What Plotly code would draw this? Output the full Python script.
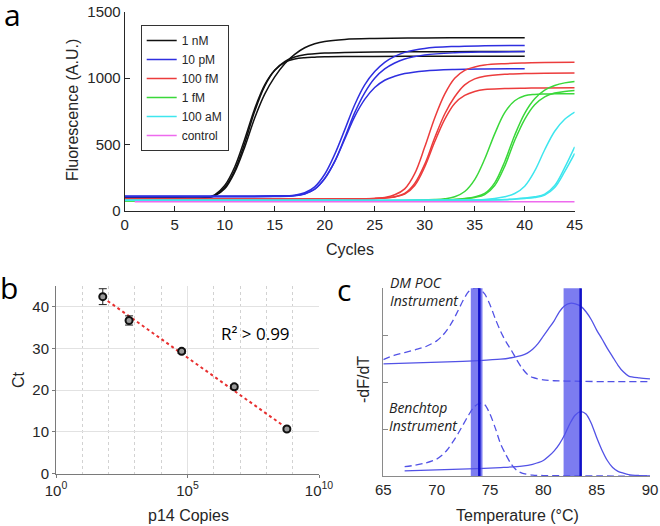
import plotly.graph_objects as go

W, H = 660, 526

# ---------- panel a : amplification curves ----------
cyc_1nM = [0, 5, 8, 9, 10, 11, 12, 13, 14, 15, 16, 17, 18, 19, 20, 22, 25, 30, 35, 40]
k1 = [96, 96, 96, 112, 165, 290, 480, 700, 880, 1010, 1110, 1180, 1230, 1260, 1278, 1293, 1300, 1304, 1305, 1305]
k2 = [96, 96, 96, 115, 175, 305, 510, 750, 940, 1060, 1125, 1160, 1178, 1185, 1190, 1195, 1198, 1200, 1201, 1201]
k3 = [96, 96, 97, 120, 190, 330, 540, 770, 950, 1060, 1120, 1145, 1155, 1159, 1162, 1164, 1165, 1166, 1166, 1166]

cyc_10pM = [0, 10, 15, 17, 18, 19, 20, 21, 22, 23, 24, 25, 26, 27, 28, 30, 33, 36, 40]
b1 = [111, 111, 112, 117, 135, 180, 275, 425, 610, 800, 950, 1050, 1120, 1165, 1195, 1225, 1240, 1245, 1248]
b2 = [108, 108, 109, 114, 128, 163, 243, 372, 550, 740, 890, 1000, 1070, 1115, 1145, 1175, 1192, 1198, 1201]
b3 = [106, 106, 107, 112, 126, 162, 242, 370, 540, 710, 840, 930, 985, 1015, 1035, 1055, 1066, 1070, 1072]

cyc_100fM = [0, 10, 20, 25, 26, 27, 28, 29, 30, 31, 32, 33, 34, 35, 36, 38, 40, 42, 45]
r1 = [88, 88, 89, 93, 100, 120, 165, 280, 480, 700, 880, 1000, 1060, 1085, 1100, 1110, 1115, 1118, 1120]
r2 = [88, 88, 89, 92, 96, 105, 130, 205, 350, 550, 730, 860, 950, 995, 1015, 1030, 1035, 1038, 1040]
r3 = [87, 87, 88, 91, 95, 104, 125, 190, 330, 520, 690, 810, 870, 900, 915, 922, 925, 927, 928]

cyc_1fM = [0, 10, 20, 28, 31, 32, 33, 34, 35, 36, 37, 38, 39, 40, 41, 42, 43, 44, 45]
g1 = [76, 76, 76, 77, 84, 90, 105, 145, 235, 390, 580, 740, 830, 868, 878, 881, 882, 883, 883]
g2 = [76, 76, 76, 76, 79, 81, 85, 92, 104, 130, 210, 370, 570, 735, 845, 910, 945, 965, 976]
g3 = [76, 76, 76, 76, 79, 81, 84, 90, 100, 122, 190, 335, 530, 690, 800, 860, 888, 900, 907]

cyc_100aM = [0, 10, 20, 30, 34, 36, 37, 38, 39, 40, 41, 42, 43, 44, 45]
c1 = [78, 78, 78, 79, 81, 85, 92, 105, 130, 185, 300, 460, 600, 690, 745]
c2 = [78, 78, 78, 78, 79, 80, 82, 85, 89, 95, 105, 125, 190, 325, 482]
c3 = [78, 78, 78, 78, 79, 80, 81, 83, 87, 92, 100, 118, 175, 295, 432]

cyc_ctrl = [1, 10, 20, 30, 40, 45]
ctrl = [68, 68, 68, 68, 68, 68]

groups = [
    ("1 nM", "#111111", cyc_1nM, [k1, k2, k3]),
    ("10 pM", "#2f2fe0", cyc_10pM, [b1, b2, b3]),
    ("100 fM", "#ec3c3c", cyc_100fM, [r1, r2, r3]),
    ("1 fM", "#3ad83a", cyc_1fM, [g1, g2, g3]),
    ("100 aM", "#3ee6ee", cyc_100aM, [c1, c2, c3]),
    ("control", "#ee6aee", cyc_ctrl, [ctrl]),
]

# ---------- panel b : standard curve ----------
copies = [6e1, 6e2, 6e4, 6e6, 6e8]
ct = [42.4, 36.7, 29.3, 20.8, 10.7]
ct_err = [1.9, 1.1, 0.5, 0.5, 0.4]
fit_x = [6e1, 6e8]
fit_y = [42.2, 10.9]

# ---------- panel c : melt curves ----------
dm_dash_t = [65, 66, 67, 68, 69, 70, 70.5, 71, 71.5, 72, 72.5, 73, 73.5, 74, 74.5, 75, 75.5, 76, 76.5, 77,
             77.5, 78, 78.5, 79, 80, 81, 83, 86, 90]
dm_dash_y = [2.48, 2.57, 2.63, 2.69, 2.76, 2.88, 2.98, 3.12, 3.3, 3.52, 3.75, 3.93, 4.0, 3.99, 3.88, 3.65,
             3.35, 3.08, 2.86, 2.68, 2.48, 2.3, 2.17, 2.1, 2.05, 2.03, 2.02, 2.01, 2.01]
dm_solid_t = [65, 68, 71, 74, 76, 77, 78, 78.5, 79, 79.5, 80, 80.5, 81, 81.5, 82, 82.5, 83, 83.5, 84, 84.5,
              85, 85.5, 86, 86.5, 87, 87.5, 88, 89, 90]
dm_solid_y = [2.39, 2.41, 2.43, 2.46, 2.49, 2.52, 2.57, 2.62, 2.7, 2.82, 2.98, 3.14, 3.3, 3.5, 3.63, 3.68,
              3.67, 3.62, 3.5, 3.33, 3.11, 2.92, 2.72, 2.54, 2.36, 2.22, 2.13, 2.09, 2.07]
bt_dash_t = [67, 68, 69, 70, 70.5, 71, 71.5, 72, 72.5, 73, 73.5, 74, 74.5, 75, 75.5, 76, 76.5, 77, 77.5,
             78, 79, 80, 85, 90]
bt_dash_y = [0.2, 0.23, 0.28, 0.36, 0.44, 0.56, 0.72, 0.9, 1.1, 1.3, 1.47, 1.55, 1.52, 1.32, 1.02, 0.68,
             0.45, 0.25, 0.12, 0.06, 0.02, 0.01, 0.0, 0.0]
bt_solid_t = [67, 70, 73, 76, 78, 79, 80, 80.5, 81, 81.5, 82, 82.5, 83, 83.5, 84, 84.5, 85, 85.5, 86, 86.5,
              87, 87.5, 88, 89, 90]
bt_solid_y = [0.11, 0.13, 0.15, 0.18, 0.21, 0.25, 0.33, 0.42, 0.53, 0.68, 0.88, 1.12, 1.3, 1.37, 1.32,
              1.12, 0.82, 0.55, 0.33, 0.18, 0.1, 0.06, 0.03, 0.01, 0.0]
tm_low = [73.2, 81.9]
tm_high = [74.3, 83.5]
tm_line = [74.0, 83.5]


def px(x):
    return x / W


def py(y):
    return 1 - y / H


fig = go.Figure()

for name, col, cyc, curves in groups:
    for i, vals in enumerate(curves):
        fig.add_trace(go.Scatter(
            x=cyc, y=vals, mode="lines", name=name, legendgroup=name,
            showlegend=(i == 0), line=dict(color=col, width=1.5, shape="spline", smoothing=1.0),
            xaxis="x", yaxis="y"))

fig.add_trace(go.Scatter(
    x=fit_x, y=fit_y, mode="lines", showlegend=False,
    line=dict(color="#e83030", width=2, dash="dot"), xaxis="x2", yaxis="y2"))
fig.add_trace(go.Scatter(
    x=copies, y=ct, mode="markers", showlegend=False,
    marker=dict(symbol="circle", size=7, color="#9a9a9a", line=dict(color="#111111", width=2)),
    error_y=dict(type="data", array=ct_err, color="#222222", thickness=1, width=4),
    xaxis="x2", yaxis="y2"))

mc = "#5252e6"
for t, y, dash in [(dm_dash_t, dm_dash_y, "7px,4px"), (dm_solid_t, dm_solid_y, "solid"),
                   (bt_dash_t, bt_dash_y, "7px,4px"), (bt_solid_t, bt_solid_y, "solid")]:
    fig.add_trace(go.Scatter(
        x=t, y=y, mode="lines", showlegend=False,
        line=dict(color=mc, width=1.3, dash=dash, shape="spline", smoothing=0.8),
        xaxis="x3", yaxis="y3"))

for lo, hi, ln in zip(tm_low, tm_high, tm_line):
    fig.add_shape(type="rect", xref="x3", yref="y3 domain", x0=lo, x1=hi, y0=0, y1=1,
                  fillcolor="rgba(80,80,235,0.75)", line_width=0, layer="above")
    fig.add_shape(type="line", xref="x3", yref="y3 domain", x0=ln, x1=ln, y0=0, y1=1,
                  line=dict(color="#1010c8", width=2.5), layer="above")

tickf = dict(family="Liberation Sans, Arial", size=15, color="#262626")
axa = dict(showline=True, linecolor="#262626", linewidth=1, ticks="inside", ticklen=5,
           tickcolor="#262626", showgrid=False, zeroline=False, tickfont=tickf, automargin=False)
axb = dict(showline=True, linecolor="#7a7a7a", linewidth=1, ticks="outside", ticklen=3,
           tickcolor="#7a7a7a", showgrid=True, gridcolor="#e2e2e2", zeroline=False, tickfont=tickf,
           automargin=False)
axc = dict(showline=True, linecolor="#8a8a8a", linewidth=1, showgrid=False, zeroline=False,
           tickfont=tickf, automargin=False)

fig.update_layout(
    width=W, height=H, margin=dict(l=0, r=0, t=0, b=0, autoexpand=False),
    paper_bgcolor="white", plot_bgcolor="white",
    xaxis=dict(axa, domain=[px(124.7), px(574.7)], range=[0, 45], tick0=0, dtick=5, anchor="y"),
    yaxis=dict(axa, domain=[py(210.7), py(12)], range=[0, 1500], tick0=0, dtick=500, anchor="x"),
    xaxis2=dict(axb, type="log", domain=[px(56), px(319)], range=[0, 10], anchor="y2",
                tickvals=[1, 1e5, 1e10], ticktext=["10<sup>0</sup>", "10<sup>5</sup>", "10<sup>10</sup>"],
                minor=dict(tickvals=[10, 100, 1e3, 1e4, 1e6, 1e7, 1e8, 1e9], showgrid=True,
                           griddash="dot", gridcolor="#d2d2d2", ticks="")),
    yaxis2=dict(axb, domain=[py(473.7), py(285.8)], range=[0, 45], tickvals=[0, 10, 20, 30, 40],
                anchor="x2"),
    xaxis3=dict(axc, domain=[px(383.3), px(650)], range=[65, 90], tick0=65, dtick=5, ticks="",
                anchor="y3"),
    yaxis3=dict(axc, domain=[py(476), py(288.3)], range=[0, 4], dtick=1, ticks="inside", ticklen=5,
                tickcolor="#8a8a8a", showticklabels=False, anchor="x3"),
    legend=dict(x=px(140.7), y=py(25), xanchor="left", yanchor="top", bgcolor="white",
                bordercolor="#333333", borderwidth=1, tracegroupgap=0,
                font=dict(family="Liberation Sans, Arial", size=12, color="#262626")),
    showlegend=True,
)

titlef = dict(family="Liberation Sans, Arial", size=16, color="#262626")
notes = [
    ("Cycles", 350, 250, 0, titlef),
    ("Fluorescence (A.U.)", 72, 110, -90, titlef),
    ("p14 Copies", 188, 515, 0, titlef),
    ("Ct", 18, 380, -90, titlef),
    ("Temperature (°C)", 517, 515, 0, titlef),
    ("-dF/dT", 363, 380, -90, titlef),
]
for txt, x, y, ang, f in notes:
    fig.add_annotation(text=txt, x=px(x), y=py(y), xref="paper", yref="paper", showarrow=False,
                       textangle=ang, font=f, xanchor="center", yanchor="middle")

labf = dict(family="Open Sans", size=30, color="black")
for txt, x, y in [("a", 13, 15), ("b", 9, 287), ("c", 344, 289)]:
    fig.add_annotation(text=txt, x=px(x), y=py(y), xref="paper", yref="paper", showarrow=False,
                       font=labf, xanchor="center", yanchor="middle")

fig.add_annotation(text="R² > 0.99", x=px(255), y=py(333), xref="paper", yref="paper",
                   showarrow=False, font=dict(family="Open Sans", size=17, color="black"))
itf = dict(family="Open Sans", size=14, color="#222222")
fig.add_annotation(text="<i>DM POC</i><br><i>Instrument</i>", x=px(388), y=py(291), xref="paper",
                   yref="paper", showarrow=False, align="left", xanchor="left", yanchor="middle",
                   font=itf)
fig.add_annotation(text="<i>Benchtop</i><br><i>Instrument</i>", x=px(387), y=py(416), xref="paper",
                   yref="paper", showarrow=False, align="left", xanchor="left", yanchor="middle",
                   font=itf)

# the page body has a default 8px margin; drop it so the figure sits at the window corner
fig.write_html("out.html", config={"displayModeBar": False},
               post_script="document.body.style.margin='0';")
